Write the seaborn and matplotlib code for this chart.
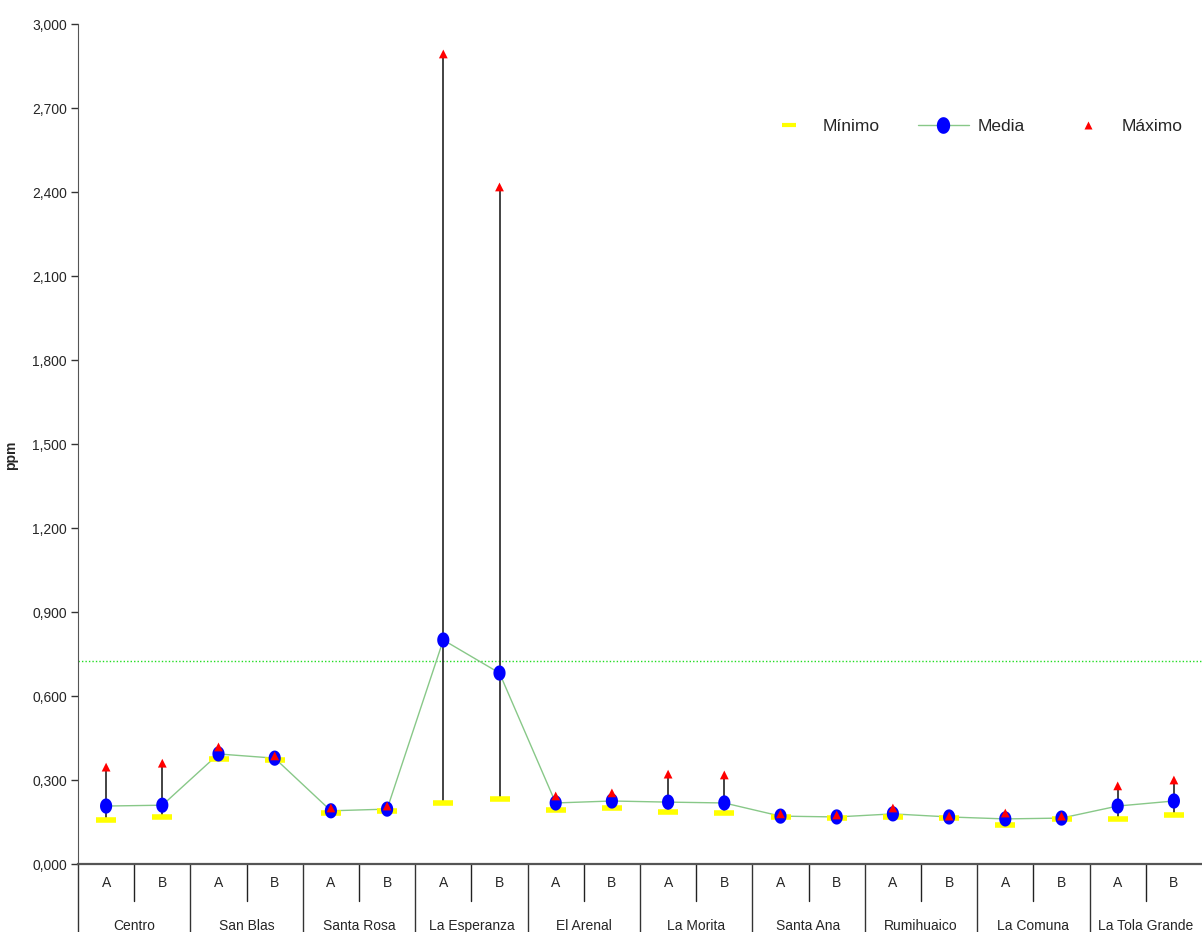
import numpy as np
import pandas as pd
import seaborn as sns
import matplotlib.pyplot as plt
from matplotlib.lines import Line2D
from matplotlib.ticker import FuncFormatter, MultipleLocator

# values (ppm)
barrios = ['Centro', 'San Blas', 'Santa Rosa', 'La Esperanza', 'El Arenal',
           'La Morita', 'Santa Ana', 'Rumihuaico', 'La Comuna', 'La Tola Grande']
puntos = ['A', 'B']
minimo = [0.157, 0.168, 0.375, 0.370, 0.182, 0.189, 0.218, 0.232, 0.193, 0.200,
          0.186, 0.182, 0.168, 0.164, 0.168, 0.164, 0.139, 0.161, 0.161, 0.175]
media = [0.207, 0.210, 0.393, 0.378, 0.190, 0.196, 0.800, 0.682, 0.218, 0.225,
         0.221, 0.218, 0.171, 0.168, 0.179, 0.168, 0.161, 0.164, 0.207, 0.225]
maximo = [0.346, 0.360, 0.418, 0.386, 0.200, 0.207, 2.893, 2.418, 0.243, 0.254,
          0.321, 0.318, 0.179, 0.175, 0.200, 0.171, 0.182, 0.171, 0.279, 0.300]
limite = 0.725

df = pd.DataFrame({
    'barrio': np.repeat(barrios, 2),
    'punto': puntos * len(barrios),
    'minimo': minimo, 'media': media, 'maximo': maximo,
})
df['x'] = np.arange(len(df))

sns.set_style('white')
plt.rcParams['font.family'] = ['Liberation Sans', 'DejaVu Sans']

fig = plt.figure(figsize=(12.02, 9.32), dpi=100)
ax = fig.add_axes([78 / 1202, 68 / 932, 1 - 78 / 1202, 840 / 932])

# ellipse marker for the mean
t = np.linspace(0, 2 * np.pi, 40)
ellipse = np.column_stack([0.8 * np.cos(t), np.sin(t)])

# min-max whiskers
ax.vlines(df['x'], df['minimo'], df['maximo'], color='#222222', lw=1.2, zorder=2)

sns.lineplot(data=df, x='x', y='media', ax=ax, color='#88c888', lw=1, zorder=3)
sns.scatterplot(data=df, x='x', y='minimo', ax=ax, marker='_', s=200,
                color='#ffff00', linewidth=4, zorder=4)
sns.scatterplot(data=df, x='x', y='media', ax=ax, marker=ellipse, s=120,
                color='#0000ff', edgecolor='none', zorder=5)
sns.scatterplot(data=df, x='x', y='maximo', ax=ax, marker='^', s=40,
                color='#ff0000', edgecolor='none', zorder=6)

ax.axhline(limite, color='#22dd22', lw=1, ls=(0, (1, 1.5)), zorder=1)

ax.set_xlim(-0.5, len(df) - 0.5)
ax.set_ylim(0, 3.0)
ax.yaxis.set_major_locator(MultipleLocator(0.3))
ax.yaxis.set_major_formatter(FuncFormatter(lambda v, p: f'{v:.3f}'.replace('.', ',')))
ax.tick_params(axis='y', left=True, length=5, width=1, color='#333333',
               labelsize=10, pad=3)
ax.set_xticks([])
ax.set_xlabel('')
ax.set_ylabel('ppm', fontsize=10, fontweight='bold')
ax.yaxis.set_label_coords(-0.053, 0.487)

for s in ['top', 'right']:
    ax.spines[s].set_visible(False)
ax.spines['left'].set_color('#555555')
ax.spines['bottom'].set_color('#555555')
ax.spines['bottom'].set_linewidth(1.6)

# category table under the axis
for i, row in df.iterrows():
    ax.text(row['x'], -0.068, row['punto'], ha='center', va='center', fontsize=10)
    if row['punto'] == 'B':
        ax.plot([i - 0.5, i - 0.5], [0, -0.132], color='#222222', lw=1, clip_on=False)
for g, nombre in enumerate(barrios):
    ax.text(2 * g + 0.5, -0.22, nombre, ha='center', va='center', fontsize=10)
    ax.plot([2 * g - 0.5, 2 * g - 0.5], [0, -0.3], color='#333333', lw=1, clip_on=False)

handles = [
    Line2D([], [], color='#ffff00', marker='_', ls='none', markersize=10, mew=3),
    Line2D([], [], color='#88c888', lw=1, marker=ellipse, markersize=12,
           markerfacecolor='#0000ff', markeredgecolor='none'),
    Line2D([], [], color='#ff0000', marker='^', ls='none', markersize=6,
           markeredgecolor='none'),
]
fig.legend(handles, ['Mínimo', 'Media', 'Máximo'], loc='center right',
           bbox_to_anchor=(0.997, 0.864), ncol=3, frameon=False, fontsize=12.5,
           handlelength=2.9, handletextpad=0.5, columnspacing=2.2)

fig.savefig('out.png', dpi=100)
